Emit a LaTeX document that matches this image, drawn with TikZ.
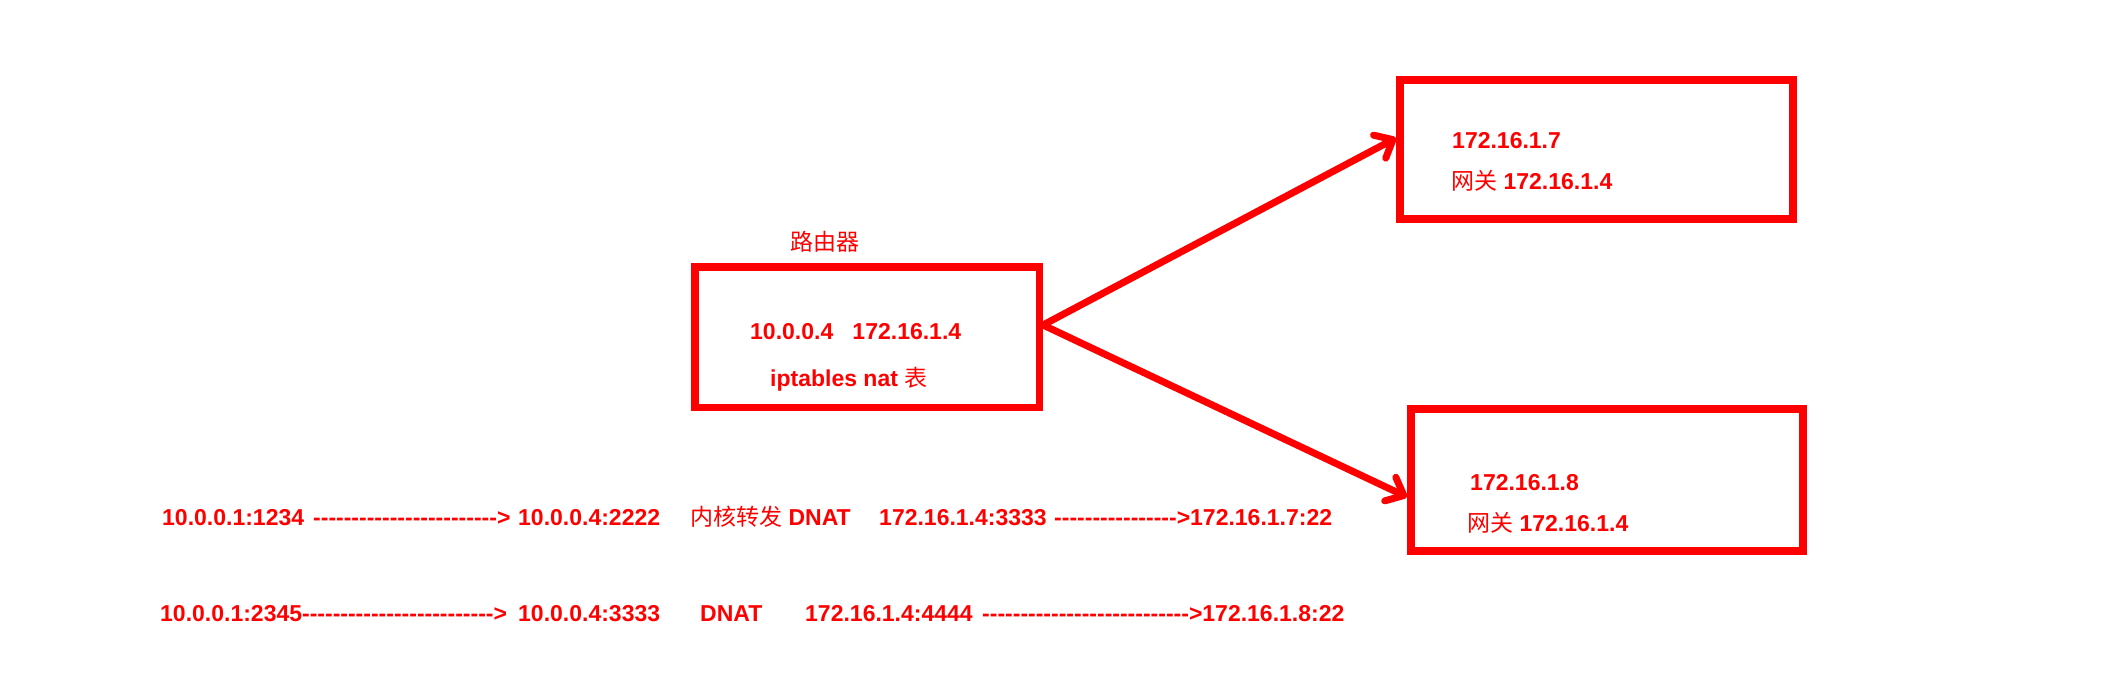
\documentclass[tikz,border=0pt]{standalone}
\usepackage{fontspec}
\setmainfont{Liberation Sans}[Ligatures=TeXOff]
\newfontfamily\cjk{Noto Sans CJK SC}
\usetikzlibrary{arrows.meta}
\definecolor{pred}{HTML}{FF0000}
\tikzset{
  boxnode/.style={draw=pred, line width=7.5pt, inner sep=0pt, fill=none},
  txt/.style={anchor=base west, inner sep=0pt, text=pred, font=\fontsize{23}{28}\selectfont\bfseries},
  arr/.style={draw=pred, line width=7pt, line cap=round, line join=round,
    -{Straight Barb[length=15pt, width=26pt, line cap=round, line join=round]}}
}
\begin{document}
\begin{tikzpicture}[x=1pt,y=-1pt]
\useasboundingbox (0,0) rectangle (2127,681);
% boxes
\node[boxnode, minimum width=344.5pt, minimum height=140.5pt] (router) at (867,337) {};
\node[boxnode, line width=8pt, minimum width=392.5pt, minimum height=139pt] (hostA) at (1596.25,149.5) {};
\node[boxnode, line width=8pt, minimum width=392pt, minimum height=142pt] (hostB) at (1607,480) {};
% router texts
\node[txt] (rtitle) at (790,250) {\cjk\mdseries 路由器};
\node[txt] (rip) at (750,339) {10.0.0.4\ \ \ 172.16.1.4};
\node[txt] (rnat) at (770,386) {iptables nat {\cjk\mdseries 表}};
% host texts
\node[txt] (aip) at (1452,148) {172.16.1.7};
\node[txt] (agw) at (1451,189) {{\cjk\mdseries 网关} 172.16.1.4};
\node[txt] (bip) at (1470,490) {172.16.1.8};
\node[txt] (bgw) at (1467,531) {{\cjk\mdseries 网关} 172.16.1.4};
% arrows
\draw[arr] ([yshift=12pt]router.east) -- ([yshift=11.5pt]hostA.west);
\draw[arr] ([yshift=12pt]router.east) -- ([yshift=-17pt]hostB.west);
% line 1
\node[txt] (l1a) at (162,525) {10.0.0.1:1234};
\node[txt] (l1b) at (313,525) {------------------------>};
\node[txt] (l1c) at (518,525) {10.0.0.4:2222};
\node[txt] (l1d) at (690,525) {{\cjk\mdseries 内核转发} DNAT};
\node[txt] (l1e) at (879,525) {172.16.1.4:3333};
\node[txt] (l1f) at (1054,525) {---------------->172.16.1.7:22};
% line 2
\node[txt] (l2a) at (160,621) {10.0.0.1:2345------------------------->};
\node[txt] (l2c) at (518,621) {10.0.0.4:3333};
\node[txt] (l2d) at (700,621) {DNAT};
\node[txt] (l2e) at (805,621) {172.16.1.4:4444};
\node[txt] (l2f) at (982,621) {--------------------------->172.16.1.8:22};
\end{tikzpicture}
\end{document}
